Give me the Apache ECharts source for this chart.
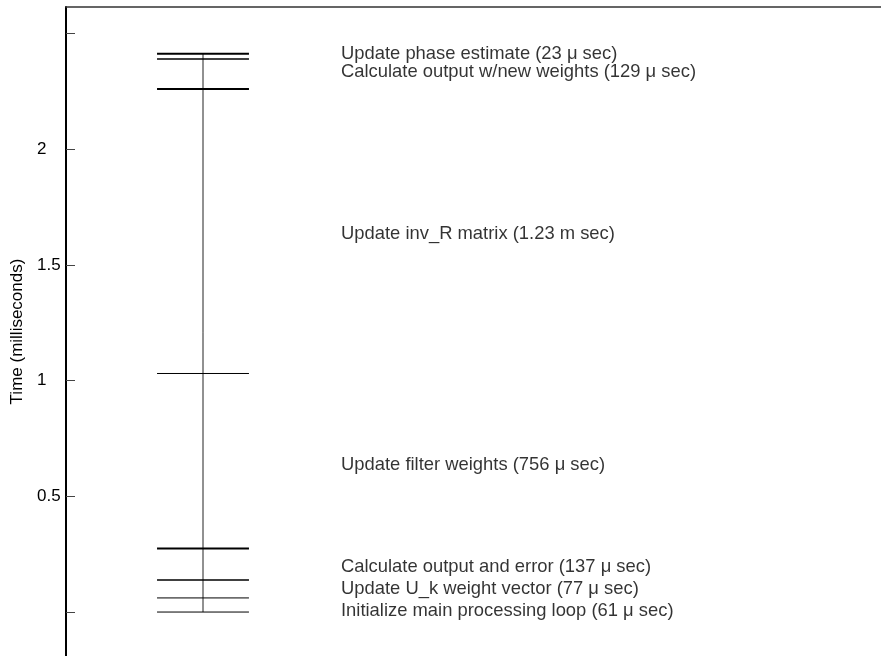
<!DOCTYPE html>
<html>
<head>
<meta charset="utf-8">
<script src="https://cdn.jsdelivr.net/npm/echarts@6/dist/echarts.min.js"></script>
<style>
  html, body { margin: 0; padding: 0; background: #fff; }
  #chart { width: 881px; height: 656px; }
</style>
</head>
<body>
<div id="chart"></div>
<script>
// Processing steps of one loop iteration, bottom to top
const steps = [
  'Initialize main processing loop',
  'Update U_k weight vector',
  'Calculate output and error',
  'Update filter weights',
  'Update inv_R matrix',
  'Calculate output w/new weights',
  'Update phase estimate'
];
// Duration of each step in milliseconds
const durationsMs = [0.061, 0.077, 0.137, 0.756, 1.23, 0.129, 0.023];
// Duration as printed next to each step
const durationText = ['61 \u03bc sec', '77 \u03bc sec', '137 \u03bc sec', '756 \u03bc sec', '1.23 m sec', '129 \u03bc sec', '23 \u03bc sec'];
// Y axis ticks and labelled ticks
const tickValues = [0, 0.5, 1, 1.5, 2, 2.5];
const tickLabels = [0.5, 1, 1.5, 2];

// Cumulative boundaries: 0, end of step 1, end of step 2, ...
const boundaries = [0];
durationsMs.forEach(d => boundaries.push(+(boundaries[boundaries.length - 1] + d).toFixed(4)));

// Drawing layout (x in axis units)
const X0 = 1.117, X1 = 2.245, XC = 1.681, XL = 3.374;
const boundaryWidths = [1, 1, 1.5, 2, 1, 2, 1.5, 2];
const labelShift = [6, 0, 3, 4, 3, -2, -2.5];
const FONT = 'Liberation Sans, Arial, sans-serif';

const series = [];
boundaries.forEach((t, i) => {
  series.push({
    type: 'line',
    data: [[X0, t], [X1, t]],
    symbol: 'none',
    silent: true,
    lineStyle: { color: '#000', width: boundaryWidths[i] },
    z: 3
  });
});
series.push({
  type: 'line',
  data: [[XC, boundaries[0]], [XC, boundaries[boundaries.length - 1]]],
  symbol: 'none',
  silent: true,
  lineStyle: { color: '#222', width: 1 },
  z: 2
});
series.push({
  type: 'scatter',
  symbolSize: 0,
  silent: true,
  data: steps.map((s, i) => ({
    value: [XL, (boundaries[i] + boundaries[i + 1]) / 2],
    label: { offset: [0, labelShift[i]] }
  })),
  label: {
    show: true,
    position: 'right',
    distance: 0,
    color: '#000',
    fontFamily: FONT,
    fontSize: 18.4,
    formatter: p => steps[p.dataIndex] + ' (' + durationText[p.dataIndex] + ')'
  }
});

const chart = echarts.init(document.getElementById('chart'), null, { renderer: 'canvas' });
chart.setOption({
  animation: false,
  backgroundColor: '#fff',
  grid: { left: 66, right: 0, top: 7, bottom: 0, containLabel: false, outerBoundsMode: 'none' },
  xAxis: {
    type: 'value',
    position: 'top',
    min: 0,
    max: 10,
    axisLine: { show: true, onZero: false, lineStyle: { color: '#333', width: 1.5 } },
    axisTick: { show: false },
    axisLabel: { show: false },
    splitLine: { show: false }
  },
  yAxis: {
    type: 'value',
    min: -0.19,
    max: 2.615,
    name: 'Time (milliseconds)',
    nameLocation: 'middle',
    nameGap: 36,
    nameTextStyle: {
      color: '#000',
      fontFamily: FONT,
      fontSize: 17,
      padding: [0, 0, 0, 0]
    },
    axisLine: { show: true, onZero: false, lineStyle: { color: '#000', width: 2 } },
    axisTick: {
      show: true,
      inside: true,
      length: 9,
      customValues: tickValues,
      lineStyle: { color: '#444', width: 1 }
    },
    axisLabel: {
      show: true,
      customValues: tickLabels,
      margin: 29,
      align: 'left',
      color: '#000',
      fontFamily: FONT,
      fontSize: 17,
      formatter: v => String(v)
    },
    splitLine: { show: false }
  },
  series: series
});
</script>
</body>
</html>
